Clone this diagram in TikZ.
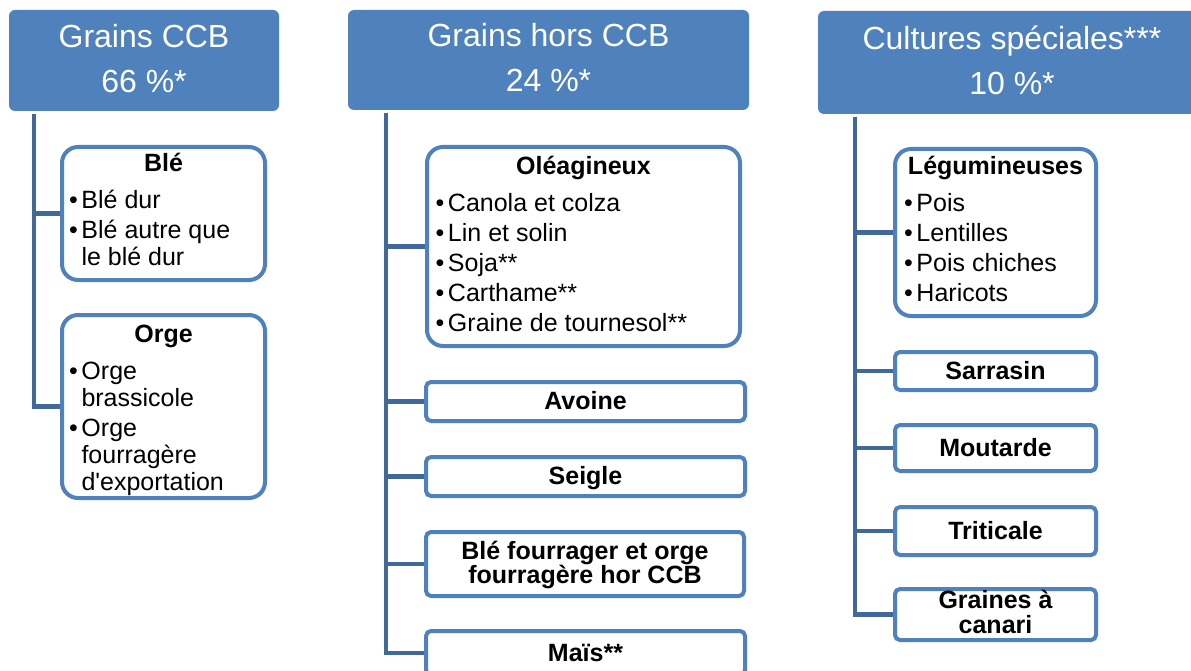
\documentclass[tikz,border=0pt]{standalone}
\usepackage{fontspec}
\setmainfont{Liberation Sans}

\definecolor{hdrblue}{HTML}{4F81BD}
\definecolor{linkblue}{RGB}{64,104,154}

% two-line white header text
\newcommand\hdrtext[2]{\parbox[t]{#1}{\centering\fontsize{32}{45}\selectfont #2}}
% one bulleted entry with hanging indent
\newcommand\cropitem[1]{\par\hangindent=12.5pt\hangafter=1\noindent\makebox[12.5pt][l]{\textbullet}#1}
% bold centred title followed by bulleted entries
\newcommand\cropgroup[3]{\parbox[t]{#1}{\fontsize{25}{27}\selectfont\setlength\parskip{3pt}%
  \centering\textbf{#2}\par\vspace{7pt}\raggedright #3\par}}
% centred bold text on two lines
\newcommand\twolines[3]{\parbox[t]{#1}{\centering\fontsize{25}{#2}\selectfont\bfseries #3}}

\tikzset{
  hdr/.style={fill=hdrblue, rounded corners=6pt, inner sep=0pt, outer sep=0pt,
    text=white, anchor=north west},
  grp/.style={draw=hdrblue, line width=4pt, fill=white, rounded corners=16pt,
    inner sep=0pt, outer sep=2pt, anchor=north west},
  twin/.style={draw=hdrblue, line width=4pt, fill=white, rounded corners=5pt,
    inner sep=0pt, outer sep=2pt, anchor=north west},
  single/.style={twin, font=\fontsize{25}{27}\selectfont\bfseries,
    text height=16pt, text depth=0pt},
  conn/.style={draw=linkblue, line width=4.5pt}
}

\begin{document}
\begin{tikzpicture}[x=1pt, y=-1pt]
\clip (0,0) rectangle (1191,671);
\fill[white] (0,0) rectangle (1191,671);

% column headers
\node[hdr, minimum width=270pt, text height=38pt, text depth=63pt] (h1) at (9,10)
  {\hdrtext{270pt}{Grains CCB\\66 \%*}};
\node[hdr, minimum width=401pt, text height=37pt, text depth=63pt] (h2) at (348,10)
  {\hdrtext{401pt}{Grains hors CCB\\24 \%*}};
\node[hdr, minimum width=388pt, text height=39pt, text depth=64pt] (h3) at (818,11)
  {\hdrtext{388pt}{Cultures spéciales***\\10 \%*}};

% first column
\node[grp, minimum width=203pt, text height=25pt, text depth=108pt] (ble) at (60,145)
  {\cropgroup{189pt}{Blé}{\cropitem{Blé dur}\cropitem{Blé autre que\hfil\break le blé dur}}};
\node[grp, minimum width=203pt, text height=27pt, text depth=156pt] (orge) at (60,313)
  {\cropgroup{189pt}{Orge}{\cropitem{Orge\hfil\break brassicole}%
   \cropitem{Orge\hfil\break fourragère\hfil\break d{\textquotesingle}exportation}}};

% second column
\node[grp, minimum width=313pt, text height=28pt, text depth=171pt] (ole) at (425,145)
  {\cropgroup{296pt}{Oléagineux}{\cropitem{Canola et colza}\cropitem{Lin et solin}%
   \cropitem{Soja**}\cropitem{Carthame**}\cropitem{Graine de tournesol**}}};
\node[single, minimum width=319pt, minimum height=39pt] (avoine) at (424,380) {Avoine};
\node[single, minimum width=319pt, minimum height=39pt] (seigle) at (424,455) {Seigle};
\node[twin, minimum width=318pt, text height=27pt, text depth=37pt] (blefour) at (424,530)
  {\twolines{310pt}{24}{Blé fourrager et orge\\fourragère hor CCB}};
\node[single, minimum width=319pt, minimum height=44pt] (mais) at (424,629) {Maïs**};

% third column
\node[grp, minimum width=201pt, text height=26pt, text depth=141pt] (legum) at (893,147)
  {\cropgroup{183pt}{Légumineuses}{\cropitem{Pois}\cropitem{Lentilles}%
   \cropitem{Pois chiches}\cropitem{Haricots}}};
\node[single, minimum width=201pt, minimum height=38pt] (sarrasin) at (893,350) {Sarrasin};
\node[single, minimum width=201pt, minimum height=46pt] (moutarde) at (893,423) {Moutarde};
\node[single, minimum width=201pt, minimum height=48pt] (triticale) at (893,505) {Triticale};
\node[twin, minimum width=201pt, text height=19pt, text depth=32pt] (canari) at (893,587)
  {\twolines{190pt}{25}{Graines à\\canari}};

% tree connectors
\coordinate (t1) at ([xshift=25pt,yshift=-3pt]h1.south west);
\coordinate (t2) at ([xshift=38pt,yshift=-3pt]h2.south west);
\coordinate (t3) at ([xshift=37pt,yshift=-3pt]h3.south west);
\foreach \b in {ble,orge} \draw[conn] (t1) |- (\b.west);
\foreach \b in {ole,avoine,seigle,blefour,mais} \draw[conn] (t2) |- (\b.west);
\foreach \b in {legum,sarrasin,moutarde,triticale,canari} \draw[conn] (t3) |- (\b.west);
\end{tikzpicture}
\end{document}
